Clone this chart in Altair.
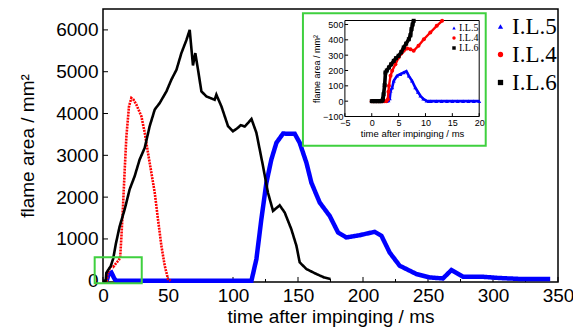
import altair as alt
import pandas as pd

SERIES = ["I.L.5", "I.L.4", "I.L.6"]
COLORS = ["#0000ff", "#ff0000", "#000000"]
SHAPES = ["triangle-up", "circle", "square"]

# ---- main curves (time / ms, flame area / mm^2) ----
t5 = [2.8, 3.5, 4.1, 5.3, 6.5, 7.5, 8.1, 9.05, 10.2, 114.2, 118, 121.8, 125.7, 129.5, 133.4, 138.5,
      147.5, 151.3, 156.5, 160.3, 166.7, 174.4, 180.8, 187.2, 197.5, 209, 214.2, 220.5, 228.2, 241.1,
      251.3, 261.5, 268, 277, 292.3, 305, 323, 344]
a5 = [0, 67, 133, 176, 195, 133, 89, 35, 0, 0, 517, 1470, 2345, 2900, 3300, 3520,
      3515, 3300, 2820, 2345, 1870, 1550, 1155, 1035, 1090, 1170, 1075, 675, 360, 160,
      80, 55, 255, 95, 95, 65, 40, 40]

t4 = [2.0, 3.0, 3.5, 4.4, 5.0, 5.95, 6.6, 7.8, 8.7, 9.7, 10.9, 12.1, 13.2, 14.2, 15.4, 16.7, 18, 20,
      21.8, 23.5, 25.7, 29.5, 32.1, 34.6, 37.2, 39.8, 42.3, 44.9, 47.5, 50, 52]
a4 = [0, 13, 165, 241, 285, 328, 343, 328, 361, 404, 448, 491, 560, 1075, 1790, 2660, 3455, 4170,
      4370, 4330, 4210, 3935, 3540, 3060, 2585, 2105, 1470, 835, 360, 40, 0]

t6 = [0, 2.0, 2.2, 2.55, 4.1, 5.95, 7.8, 10, 12.8, 16.7, 20.5, 24.4, 28.2, 32.1, 35.9, 39.8, 43.6,
      48.8, 52.6, 56.5, 60.3, 64.2, 66.7, 69.2, 71.0, 73.1, 75.7, 79.5, 85.9, 87.2, 91.1, 96.2, 100,
      103, 106, 109, 112, 114.2, 118, 123.1, 126.9, 130.8, 135.9, 139.8, 144.9, 148.8, 151.3, 156.5,
      164.2, 170, 175]
a6 = [0, 0, 45, 187, 263, 350, 524, 900, 1300, 1710, 2185, 2505, 2900, 3180, 3695, 4095, 4250,
      4530, 4810, 5045, 5445, 5760, 6000, 5150, 5445, 5045, 4530, 4410, 4330, 4450, 4170, 3695, 3575,
      3640, 3720, 3690, 3790, 3870, 3540, 2740, 2105, 1670, 1805, 1630, 1230, 835, 440, 280,
      160, 80, 40]

# ---- inset curves (first 20 ms) ----
it5 = [2.8, 3.1, 3.35, 3.5, 3.8, 4.1, 4.7, 5.3, 5.95, 6.45, 6.9, 7.5, 8.1, 8.6, 9.05, 9.6, 10.2,
       10.6, 11, 12, 13, 14, 15, 16, 17, 18, 19, 20]
ia5 = [0, 5, 17, 67, 89, 133, 165, 176, 187, 195, 165, 133, 89, 60, 35, 15, 2,
       0, 0, 0, 0, 0, 0, 0, 0, 0, 0, 0]
it4 = [0, 0.4, 0.8, 1.2, 1.6, 2.0, 2.4, 2.7, 3.0, 3.1, 3.2, 3.5, 3.8, 4.4, 5.0, 5.5, 5.95, 6.6,
       7.2, 7.8, 8.7, 9.7, 10.9, 12.1, 13.1]
ia4 = [0, 0, 0, 0, 0, 0, 0, 0, 13, 61, 100, 165, 198, 241, 285, 310, 328, 343,
       339, 328, 361, 404, 448, 491, 524]
it6 = [0, 0.3, 0.6, 0.9, 1.2, 1.5, 1.8, 2.0, 2.1, 2.2, 2.4, 2.55, 2.8, 3.2, 3.6, 4.1, 4.5, 5.0,
       5.5, 5.95, 6.4, 6.9, 7.2, 7.4, 7.6, 7.8]
ia6 = [0, 0, 0, 0, 0, 0, 0, 5, 17, 45, 104, 187, 200, 220, 240, 263, 280, 296,
       320, 350, 375, 404, 430, 470, 500, 524]

# ---- axes / ticks ----
X_LABELS = [0, 50, 100, 150, 200, 250, 300, 350]
X_MINOR = [25, 75, 125, 175, 225, 275, 325]
Y_LABELS = [0, 1000, 2000, 3000, 4000, 5000, 6000]
IX_LABELS = [-5, 0, 5, 10, 15, 20]
IY_LABELS = [-100, 0, 100, 200, 300, 400, 500]

W, H = 455, 273
X_DOM = [0, 350]
Y_DOM = [-30, 6500]
IX_DOM = [-5, 20]
IY_DOM = [-100, 526]
IX_RANGE = [241.9, 376.2]
IY_RANGE = [107.5, 11.5]

FONT = "Liberation Sans"
SERIF = "Liberation Serif"
GREEN = "#3fd03f"


def frame(ts, vs, name):
    return pd.DataFrame({"t": ts, "a": vs, "s": name})


main_df = pd.concat([frame(t5, a5, "I.L.5"), frame(t4, a4, "I.L.4"), frame(t6, a6, "I.L.6")])
inset_df = pd.concat([frame(it5, ia5, "I.L.5"), frame(it4, ia4, "I.L.4"), frame(it6, ia6, "I.L.6")])

xs = alt.Scale(domain=X_DOM, nice=False, zero=False)
ys = alt.Scale(domain=Y_DOM, nice=False, zero=False)

main_legend = alt.Legend(orient="none", legendX=378, legendY=6, title=None, labelFont=SERIF,
                         labelFontSize=23, labelOffset=0, symbolOffset=8, symbolSize=28,
                         rowPadding=4, padding=0, labelColor="black")

x_main = alt.X("t:Q", scale=xs, axis=alt.Axis(values=X_LABELS, title="time after impinging / ms",
               orient="bottom", ticks=False, tickSize=0, domain=False, grid=False, format="d",
               labelFontSize=19, titleFontSize=19, labelPadding=4, titlePadding=2,
               labelFlush=False, titleFontWeight="normal"))
y_main = alt.Y("a:Q", scale=ys, axis=alt.Axis(values=Y_LABELS, title="flame area / mm²",
               orient="left", ticks=False, tickSize=0, domain=False, grid=False, format="d",
               labelFontSize=19, titleFontSize=19, labelPadding=5, titlePadding=18,
               labelFlush=False, titleFontWeight="normal"))

base_main = alt.Chart(main_df)
MAIN_WIDTHS = [4.5, 2.6, 2.6]
MAIN_DASH = [[1, 0], [2, 1], [1, 0]]
main_line_layers = []
for name, col, wd, dash in zip(SERIES, COLORS, MAIN_WIDTHS, MAIN_DASH):
    main_line_layers.append(
        base_main.transform_filter(alt.datum.s == name)
        .mark_line(color=col, strokeWidth=wd, strokeDash=dash)
        .encode(x=x_main, y=y_main)
    )
# legend carrier: no rows pass the filter, entries come from the explicit scale domain
main_key = base_main.transform_filter("false").mark_point(filled=True, size=28, opacity=1).encode(
    x=alt.X("t:Q", scale=xs), y=alt.Y("a:Q", scale=ys),
    color=alt.Color("s:N", scale=alt.Scale(domain=SERIES, range=COLORS), legend=main_legend),
    shape=alt.Shape("s:N", scale=alt.Scale(domain=SERIES, range=SHAPES), legend=main_legend),
)

# inward tick marks of the main frame
xt_df = pd.DataFrame({"t": X_LABELS + X_MINOR,
                      "y0": [Y_DOM[0]] * (len(X_LABELS) + len(X_MINOR)),
                      "y1": [Y_DOM[0] + 120] * len(X_LABELS) + [Y_DOM[0] + 72] * len(X_MINOR)})
main_xticks = alt.Chart(xt_df).mark_rule(color="black", strokeWidth=1).encode(
    x=alt.X("t:Q", scale=xs), y=alt.Y("y0:Q", scale=ys), y2="y1:Q")
yt_df = pd.DataFrame({"a": Y_LABELS[1:], "x0": [0] * 6, "x1": [3.85] * 6})
main_yticks = alt.Chart(yt_df).mark_rule(color="black", strokeWidth=1).encode(
    y=alt.Y("a:Q", scale=ys), x=alt.X("x0:Q", scale=xs), x2="x1:Q")

# green boxes: small one marks the zoomed region, big one holds the inset
zoom_box = pd.DataFrame({"x0": [-6.4], "x1": [29.8], "y0": [-60], "y1": [561]})
inset_box = pd.DataFrame({"x0": [153.8], "x1": [294.4], "y0": [3230], "y1": [6397]})
small_green = alt.Chart(zoom_box).mark_rect(fillOpacity=0, stroke=GREEN, strokeWidth=2).encode(
    x=alt.X("x0:Q", scale=xs), x2="x1:Q", y=alt.Y("y0:Q", scale=ys), y2="y1:Q")
big_green = alt.Chart(inset_box).mark_rect(fillOpacity=0, stroke=GREEN, strokeWidth=2).encode(
    x=alt.X("x0:Q", scale=xs), x2="x1:Q", y=alt.Y("y0:Q", scale=ys), y2="y1:Q")

main_group = alt.layer(main_xticks, main_yticks, *main_line_layers, main_key, small_green, big_green)

# ---- inset ----
ixs = alt.Scale(domain=IX_DOM, range=IX_RANGE, nice=False, zero=False)
iys = alt.Scale(domain=IY_DOM, range=IY_RANGE, nice=False, zero=False)

inset_legend = alt.Legend(orient="none", legendX=337, legendY=14, title=None, labelFont=SERIF,
                          labelFontSize=10, labelOffset=0, symbolOffset=9, symbolSize=12,
                          rowPadding=0, padding=0, labelColor="black")

x_in = alt.X("t:Q", scale=ixs, axis=alt.Axis(values=IX_LABELS, title="time after impinging / ms",
             orient="bottom", offset=-(H - IY_RANGE[0]), ticks=False, tickSize=0, domain=False,
             grid=False, labelFontSize=9, titleFontSize=9.5, labelPadding=2, titlePadding=1,
             labelFlush=False, titleFontWeight="normal", zindex=2, labelOverlap=False))
y_in = alt.Y("a:Q", scale=iys, axis=alt.Axis(values=IY_LABELS, title="flame area / mm²",
             orient="left", offset=-IX_RANGE[0], ticks=False, tickSize=0, domain=False,
             grid=False, labelFontSize=9, titleFontSize=9, labelPadding=2, titlePadding=1,
             labelFlush=False, titleFontWeight="normal", zindex=2, labelOverlap=False))

base_in = alt.Chart(inset_df)
INSET_WIDTHS = [2.6, 2.4, 3.6]
inset_layers = []
for name, col, wd, shp in zip(SERIES, COLORS, INSET_WIDTHS, SHAPES):
    sub = base_in.transform_filter(alt.datum.s == name)
    inset_layers.append(sub.mark_line(color=col, strokeWidth=wd).encode(x=x_in, y=y_in))
    inset_layers.append(sub.mark_point(color=col, filled=True, shape=shp, size=16, opacity=1)
                        .encode(x=alt.X("t:Q", scale=ixs), y=alt.Y("a:Q", scale=iys)))
inset_key = base_in.transform_filter("false").mark_point(filled=True, size=12, opacity=1).encode(
    x=alt.X("t:Q", scale=ixs), y=alt.Y("a:Q", scale=iys),
    color=alt.Color("s:N", scale=alt.Scale(domain=SERIES, range=COLORS), legend=inset_legend),
    shape=alt.Shape("s:N", scale=alt.Scale(domain=SERIES, range=SHAPES), legend=inset_legend),
)
iframe_df = pd.DataFrame({"x0": [IX_DOM[0]], "x1": [IX_DOM[1]], "y0": [IY_DOM[0]], "y1": [IY_DOM[1]]})
inset_frame = alt.Chart(iframe_df).mark_rect(fillOpacity=0, stroke="black", strokeWidth=1).encode(
    x=alt.X("x0:Q", scale=ixs), x2="x1:Q", y=alt.Y("y0:Q", scale=iys), y2="y1:Q")
ixt_df = pd.DataFrame({"t": IX_LABELS, "y0": [IY_DOM[0]] * 6, "y1": [IY_DOM[0] + 22] * 6})
inset_xticks = alt.Chart(ixt_df).mark_rule(color="black", strokeWidth=1).encode(
    x=alt.X("t:Q", scale=ixs), y=alt.Y("y0:Q", scale=iys), y2="y1:Q")
iyt_df = pd.DataFrame({"a": IY_LABELS, "x0": [IX_DOM[0]] * 7, "x1": [IX_DOM[0] + 0.6] * 7})
inset_yticks = alt.Chart(iyt_df).mark_rule(color="black", strokeWidth=1).encode(
    y=alt.Y("a:Q", scale=iys), x=alt.X("x0:Q", scale=ixs), x2="x1:Q")

inset_group = alt.layer(inset_frame, inset_xticks, inset_yticks, *inset_layers, inset_key)

chart = alt.layer(main_group, inset_group).resolve_scale(
    x="independent", y="independent", color="independent", shape="independent",
).properties(
    width=W, height=H,
    autosize=alt.AutoSizeParams(type="none"),
    padding={"left": 95, "top": 1, "right": 15, "bottom": 50},
    background="white",
).configure_view(
    stroke="black", strokeWidth=1.5
).configure_axis(
    labelFont=FONT, titleFont=FONT, labelColor="black", titleColor="black"
).configure_legend(
    labelFont=SERIF
)

chart.save("out.html", embed_options={"renderer": "svg", "actions": False})
